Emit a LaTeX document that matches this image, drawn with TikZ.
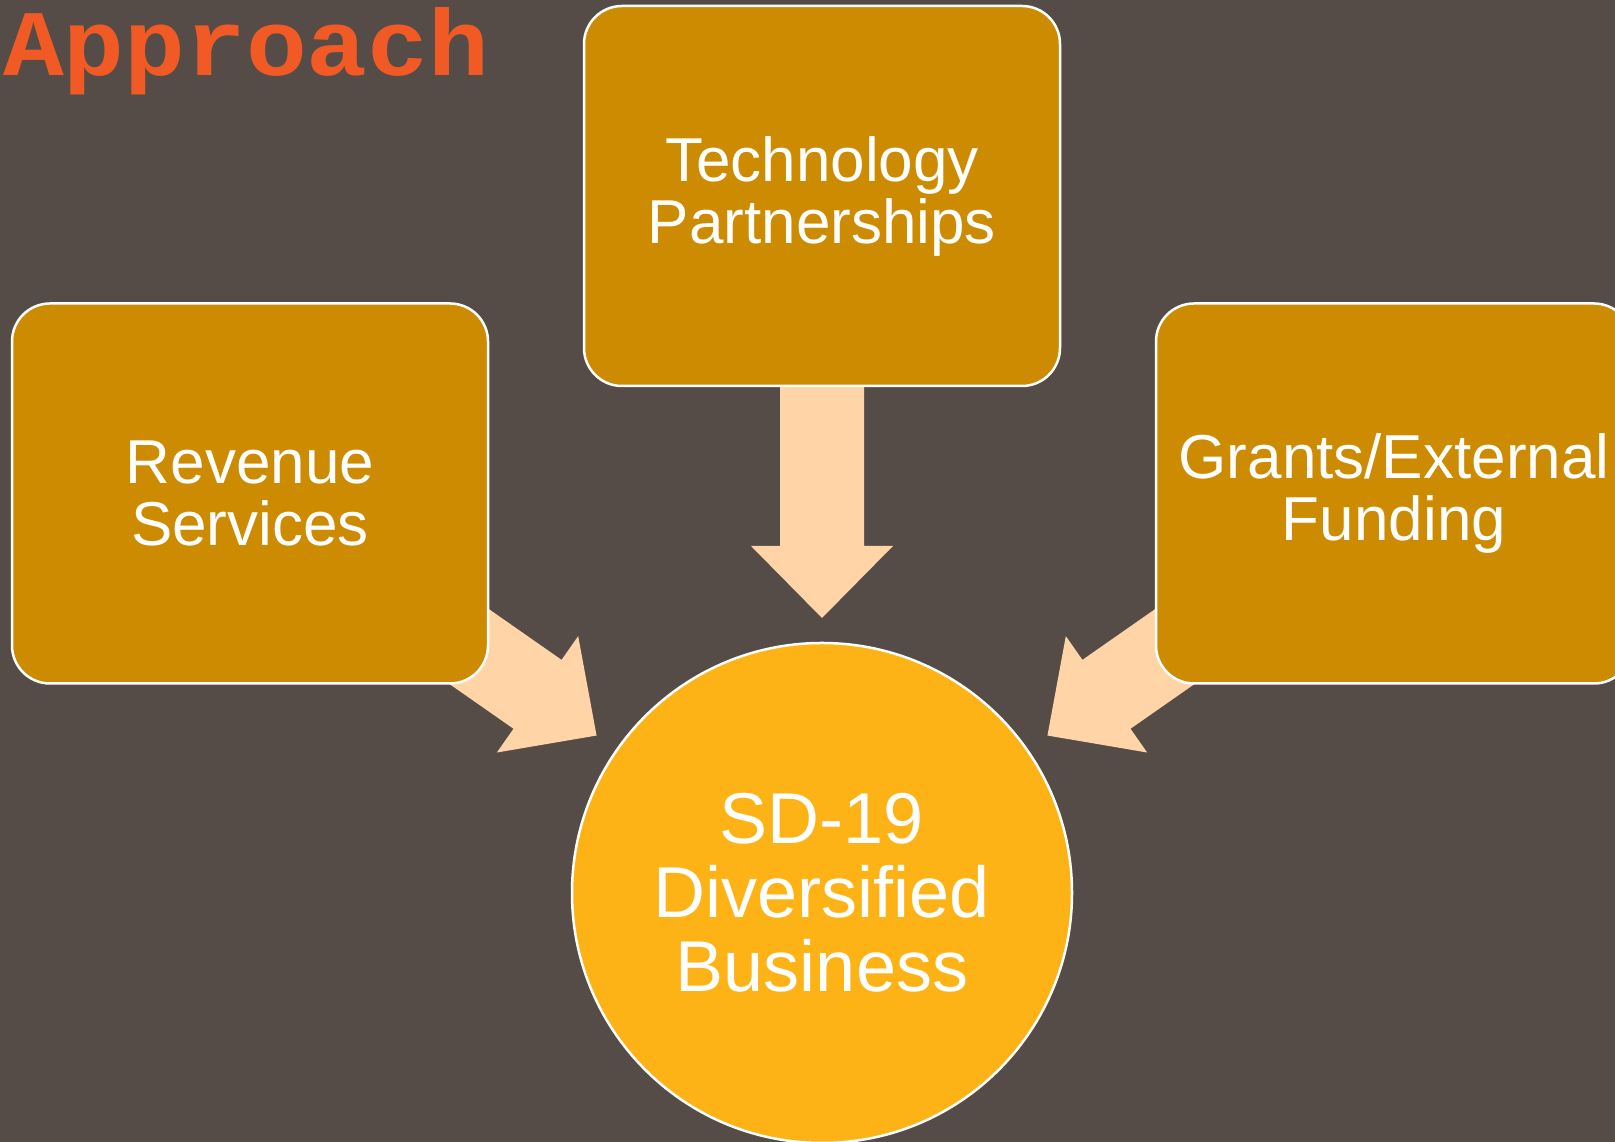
\documentclass[tikz,border=0pt]{standalone}
\usepackage{fontspec}
\setmainfont{Liberation Sans}
\newfontfamily\titlefont{Liberation Mono}
\usetikzlibrary{calc}

\definecolor{slate}{RGB}{85,76,72}
\definecolor{ochre}{RGB}{204,139,0}
\definecolor{gold}{RGB}{253,179,21}
\definecolor{peach}{RGB}{255,213,167}
\definecolor{flame}{RGB}{241,90,36}

\pgfdeclarelayer{bg}
\pgfdeclarelayer{arrows}
\pgfsetlayers{bg,arrows,main}

% block arrow from the centre of node #1 towards node #2,
% its tip stopping 275pt short of the centre of #2
\newcommand\feedarrow[2]{%
  \coordinate (#1-tip) at ($(#2.center)!275pt!(#1.center)$);
  \coordinate (#1-base) at ($(#1-tip)!72pt!(#1.center)$);
  \fill[flowarrow] (#1-tip)
    -- ($(#1-base)!71pt!90:(#1-tip)$)
    -- ($(#1-base)!42pt!90:(#1-tip)$)
    -- ($(#1.center)!42pt!90:(#1-tip)$)
    -- ($(#1.center)!42pt!-90:(#1-tip)$)
    -- ($(#1-base)!42pt!-90:(#1-tip)$)
    -- ($(#1-base)!71pt!-90:(#1-tip)$)
    -- cycle;}

\begin{document}
\begin{tikzpicture}[x=1pt,y=1pt,
  srcbox/.style={draw=white, line width=2.5pt, fill=ochre, rounded corners=38pt,
    minimum width=476pt, minimum height=380pt, inner sep=0pt, align=center,
    text=white, font=\fontsize{62}{62}\selectfont},
  hub/.style={circle, draw=white, line width=2.5pt, fill=gold,
    minimum size=500pt, inner sep=0pt, align=center,
    text=white, font=\fontsize{72}{74}\selectfont},
  flowarrow/.style={fill=peach},
  heading/.style={inner sep=0pt, text=flame, anchor=base west}]
\useasboundingbox (0,0) rectangle (1615,1142);
\clip (0,0) rectangle (1615,1142);
\begin{pgfonlayer}{bg}
  \fill[slate] (0,0) rectangle (1615,1142);
\end{pgfonlayer}

% title
\node[heading] (title) at (3,1066)
  {\resizebox{486pt}{68pt}{\titlefont\bfseries Approach}};

% source boxes and the hub
\node[srcbox] (tech) at (822,946) {Technology\\Partnerships};
\node[srcbox] (rev) at (250,648.5) {Revenue\\Services};
\node[srcbox] (grant) at (1394,648.5) {Grants/External\\Funding};
\node[hub] (hub) at (822,249) {SD-19\\Diversified\\Business};

% arrows run behind the boxes
\begin{pgfonlayer}{arrows}
  \feedarrow{tech}{hub}
  \feedarrow{rev}{hub}
  \feedarrow{grant}{hub}
\end{pgfonlayer}
\end{tikzpicture}
\end{document}
